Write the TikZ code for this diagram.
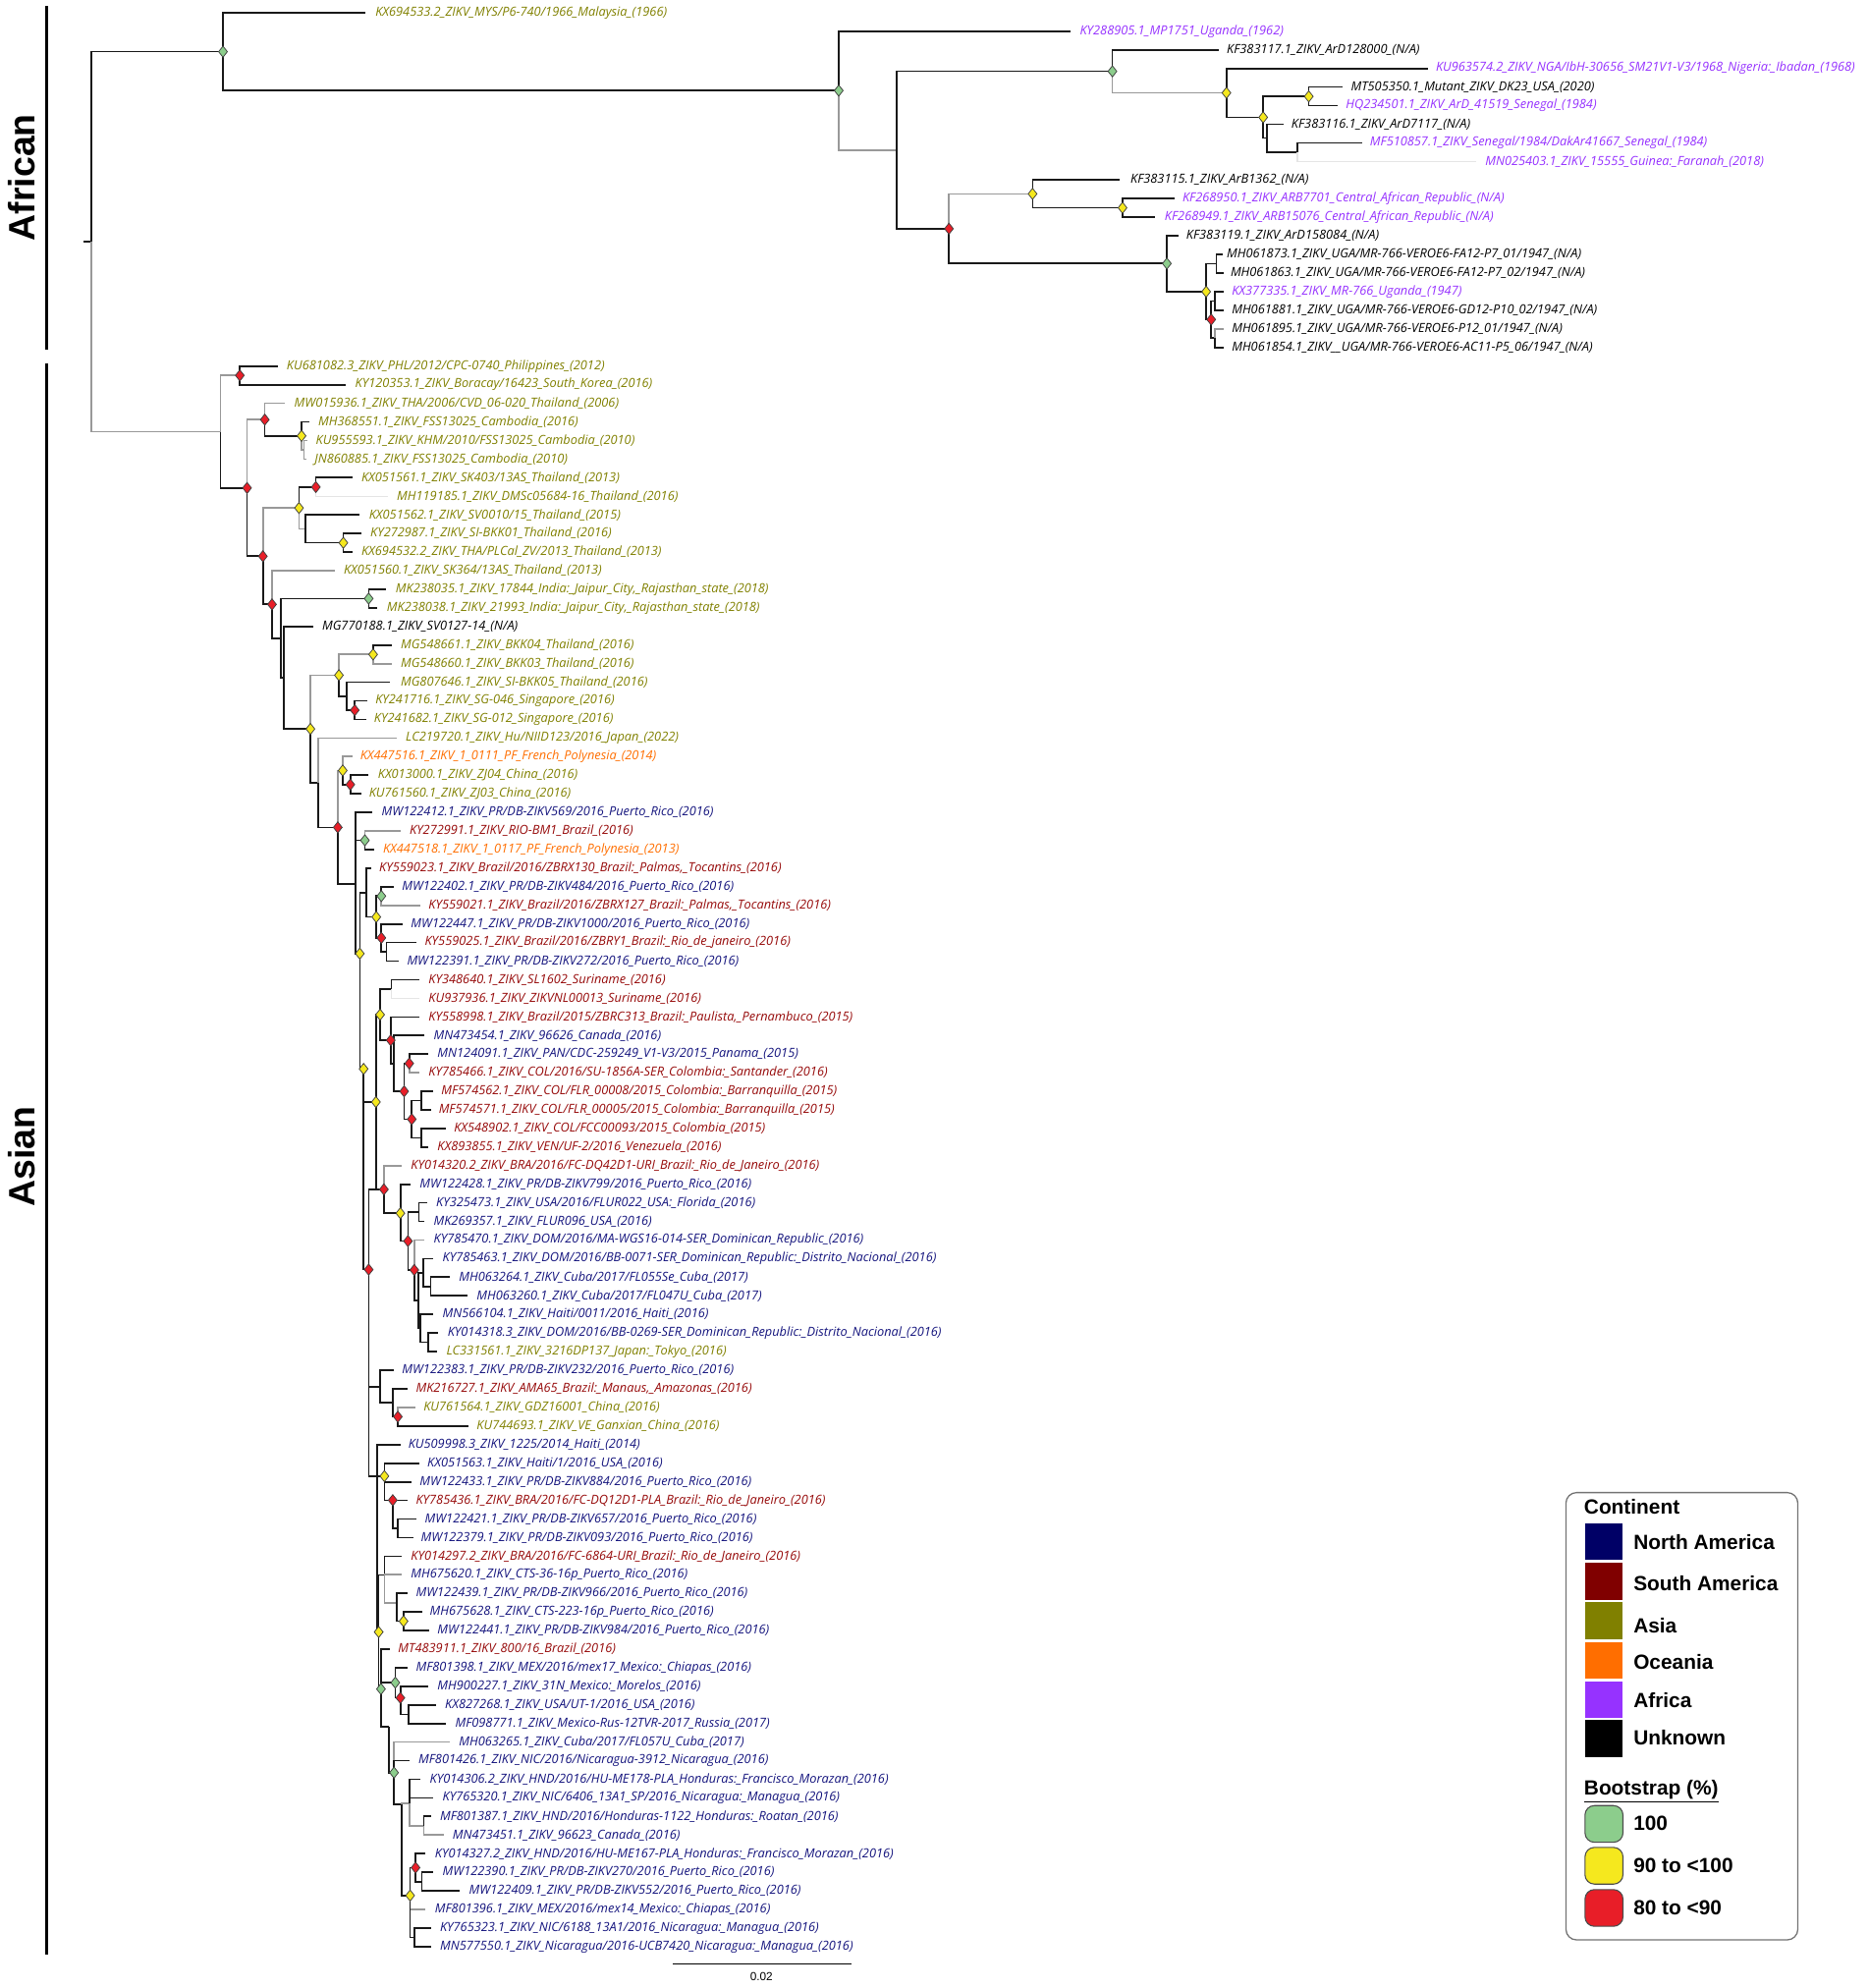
\documentclass[tikz,border=0pt]{standalone}
\usepackage{fontspec}
\usetikzlibrary{shapes.geometric}
\newfontfamily\labfam{Open Sans}
\newfontfamily\legfam{Liberation Sans}
\definecolor{cNA}{RGB}{20,20,125}
\definecolor{cSA}{RGB}{150,10,10}
\definecolor{cAS}{RGB}{128,128,0}
\definecolor{cOC}{RGB}{255,110,0}
\definecolor{cAF}{RGB}{150,50,255}
\definecolor{cUN}{RGB}{0,0,0}
\definecolor{lNA}{RGB}{0,0,102}
\definecolor{lSA}{RGB}{128,0,0}
\definecolor{bG}{RGB}{140,205,140}
\definecolor{bY}{RGB}{245,232,30}
\definecolor{bR}{RGB}{232,30,40}
\newcommand\TL[6]{\coordinate (#1) at (#2,#4); \node[lab,text=#5] (#1L) at (#3,#4) {#6};}
\newcommand\TN[3]{\coordinate (#1) at (#2,#3);}
\newcommand\TE[2]{\draw[br] (#1) |- (#2);}
\newcommand\TG[2]{\draw[brg] (#1) |- (#2);}
\newcommand\TW[2]{\draw[brl] (#1) |- (#2);}
\newcommand\TM[2]{\node[mk,fill=#2] (#1M) at (#1) {};}
\catcode`\_=12
\begin{document}
\begin{tikzpicture}[x=0.6pt,y=-0.6pt,
  br/.style={line width=0.8pt, black!90},
  brg/.style={line width=0.8pt, black!40},
  brl/.style={line width=0.6pt, black!10},
  lab/.style={font=\labfam\itshape\fontsize{5.95}{7}\selectfont, inner sep=0pt, anchor=west},
  mk/.style={shape=diamond, draw=black!75, line width=0.35pt, inner sep=0pt, minimum width=4.3pt, minimum height=5.4pt},
  clade/.style={font=\legfam\bfseries\fontsize{17.4}{18}\selectfont, rotate=90, inner sep=0pt},
  legt/.style={font=\legfam\bfseries\fontsize{9.7}{11}\selectfont, inner sep=0pt, anchor=west},
  sw/.style={inner sep=0pt, minimum width=17.6pt, minimum height=17.4pt},
  bs/.style={inner sep=0pt, minimum width=18pt, minimum height=17.4pt, rounded corners=4.5pt, draw=black!70, line width=0.5pt}]
\useasboundingbox (0,0) rectangle (1475,1569);
% ---------------- clade labels ----------------
\coordinate (barA1) at (37,5); \coordinate (barA2) at (37,276);
\coordinate (barB1) at (37,287); \coordinate (barB2) at (37,1543);
\draw[line width=1.5pt] (barA1) -- (barA2);
\draw[line width=1.5pt] (barB1) -- (barB2);
\node[clade] (cAfr) at (17,140) {African};
\node[clade] (cAsi) at (17,913) {Asian};
% ---------------- African leaves ----------------
\TL{m0}{288}{296}{10}{cAS}{KX694533.2_ZIKV_MYS/P6-740/1966_Malaysia_(1966)}
\TL{af1}{845}{852}{24.7}{cAF}{KY288905.1_MP1751_Uganda_(1962)}
\TL{af2}{962}{968}{39.4}{cUN}{KF383117.1_ZIKV_ArD128000_(N/A)}
\TL{af3}{1127}{1133}{54.0}{cAF}{KU963574.2_ZIKV_NGA/IbH-30656_SM21V1-V3/1968_Nigeria:_Ibadan_(1968)}
\TL{af4}{1060}{1066}{68.7}{cUN}{MT505350.1_Mutant_ZIKV_DK23_USA_(2020)}
\TL{af5}{1056}{1062}{83.4}{cAF}{HQ234501.1_ZIKV_ArD_41519_Senegal_(1984)}
\TL{af6}{1013}{1019}{98.0}{cUN}{KF383116.1_ZIKV_ArD7117_(N/A)}
\TL{af7}{1075}{1081}{112.7}{cAF}{MF510857.1_ZIKV_Senegal/1984/DakAr41667_Senegal_(1984)}
\TL{af8}{1165}{1172}{127.4}{cAF}{MN025403.1_ZIKV_15555_Guinea:_Faranah_(2018)}
\TL{af9}{884}{892}{142.0}{cUN}{KF383115.1_ZIKV_ArB1362_(N/A)}
\TL{af10}{927}{933}{156.6}{cAF}{KF268950.1_ZIKV_ARB7701_Central_African_Republic_(N/A)}
\TL{af11}{912}{919}{171.3}{cAF}{KF268949.1_ZIKV_ARB15076_Central_African_Republic_(N/A)}
\TL{af12}{930}{936}{185.8}{cUN}{KF383119.1_ZIKV_ArD158084_(N/A)}
\TL{af13}{965}{968}{200.8}{cUN}{MH061873.1_ZIKV_UGA/MR-766-VEROE6-FA12-P7_01/1947_(N/A)}
\TL{af14}{966}{971}{215.5}{cUN}{MH061863.1_ZIKV_UGA/MR-766-VEROE6-FA12-P7_02/1947_(N/A)}
\TL{af15}{966}{972}{230.2}{cAF}{KX377335.1_ZIKV_MR-766_Uganda_(1947)}
\TL{af16}{966}{972}{244.9}{cUN}{MH061881.1_ZIKV_UGA/MR-766-VEROE6-GD12-P10_02/1947_(N/A)}
\TL{af17}{966}{972}{259.5}{cUN}{MH061895.1_ZIKV_UGA/MR-766-VEROE6-P12_01/1947_(N/A)}
\TL{af18}{966}{972}{274.2}{cUN}{MH061854.1_ZIKV__UGA/MR-766-VEROE6-AC11-P5_06/1947_(N/A)}
% ---------------- Asian leaves ----------------
\TL{a1}{219}{226}{288.9}{cAS}{KU681082.3_ZIKV_PHL/2012/CPC-0740_Philippines_(2012)}
\TL{a2}{273}{280}{303.6}{cAS}{KY120353.1_ZIKV_Boracay/16423_South_Korea_(2016)}
\TL{a3}{225}{232}{318.3}{cAS}{MW015936.1_ZIKV_THA/2006/CVD_06-020_Thailand_(2006)}
\TL{a4}{244}{251}{333.0}{cAS}{MH368551.1_ZIKV_FSS13025_Cambodia_(2016)}
\TL{a5}{243}{249}{347.7}{cAS}{KU955593.1_ZIKV_KHM/2010/FSS13025_Cambodia_(2010)}
\TL{a6}{242}{248}{362.3}{cAS}{JN860885.1_ZIKV_FSS13025_Cambodia_(2010)}
\TL{a7}{278}{285}{377.0}{cAS}{KX051561.1_ZIKV_SK403/13AS_Thailand_(2013)}
\TL{a8}{306}{313}{391.7}{cAS}{MH119185.1_ZIKV_DMSc05684-16_Thailand_(2016)}
\TL{a9}{284}{291}{406.4}{cAS}{KX051562.1_ZIKV_SV0010/15_Thailand_(2015)}
\TL{a10}{285}{292}{421.0}{cAS}{KY272987.1_ZIKV_SI-BKK01_Thailand_(2016)}
\TL{a11}{278}{285}{435.7}{cAS}{KX694532.2_ZIKV_THA/PLCal_ZV/2013_Thailand_(2013)}
\TL{a12}{264}{271}{450.4}{cAS}{KX051560.1_ZIKV_SK364/13AS_Thailand_(2013)}
\TL{a13}{305}{312}{465.1}{cAS}{MK238035.1_ZIKV_17844_India:_Jaipur_City,_Rajasthan_state_(2018)}
\TL{a14}{298}{305}{479.7}{cAS}{MK238038.1_ZIKV_21993_India:_Jaipur_City,_Rajasthan_state_(2018)}
\TL{a15}{247}{254}{494.4}{cUN}{MG770188.1_ZIKV_SV0127-14_(N/A)}
\TL{a16}{309}{316}{509.1}{cAS}{MG548661.1_ZIKV_BKK04_Thailand_(2016)}
\TL{a17}{309}{316}{523.8}{cAS}{MG548660.1_ZIKV_BKK03_Thailand_(2016)}
\TL{a18}{308}{316}{538.4}{cAS}{MG807646.1_ZIKV_SI-BKK05_Thailand_(2016)}
\TL{a19}{290}{296}{553.1}{cAS}{KY241716.1_ZIKV_SG-046_Singapore_(2016)}
\TL{a20}{289}{295}{567.8}{cAS}{KY241682.1_ZIKV_SG-012_Singapore_(2016)}
\TL{a21}{313}{320}{582.5}{cAS}{LC219720.1_ZIKV_Hu/NIID123/2016_Japan_(2022)}
\TL{a22}{278}{284}{597.1}{cOC}{KX447516.1_ZIKV_1_0111_PF_French_Polynesia_(2014)}
\TL{a23}{291}{298}{611.8}{cAS}{KX013000.1_ZIKV_ZJ04_China_(2016)}
\TL{a24}{285}{291}{626.5}{cAS}{KU761560.1_ZIKV_ZJ03_China_(2016)}
\TL{a25}{294}{301}{641.2}{cNA}{MW122412.1_ZIKV_PR/DB-ZIKV569/2016_Puerto_Rico_(2016)}
\TL{a26}{316}{323}{655.8}{cSA}{KY272991.1_ZIKV_RIO-BM1_Brazil_(2016)}
\TL{a27}{295}{302}{670.5}{cOC}{KX447518.1_ZIKV_1_0117_PF_French_Polynesia_(2013)}
\TL{a28}{293}{299}{685.2}{cSA}{KY559023.1_ZIKV_Brazil/2016/ZBRX130_Brazil:_Palmas,_Tocantins_(2016)}
\TL{a29}{311}{317}{699.9}{cNA}{MW122402.1_ZIKV_PR/DB-ZIKV484/2016_Puerto_Rico_(2016)}
\TL{a30}{332}{338}{714.5}{cSA}{KY559021.1_ZIKV_Brazil/2016/ZBRX127_Brazil:_Palmas,_Tocantins_(2016)}
\TL{a31}{318}{324}{729.2}{cNA}{MW122447.1_ZIKV_PR/DB-ZIKV1000/2016_Puerto_Rico_(2016)}
\TL{a32}{329}{335}{743.9}{cSA}{KY559025.1_ZIKV_Brazil/2016/ZBRY1_Brazil:_Rio_de_janeiro_(2016)}
\TL{a33}{315}{321}{758.6}{cNA}{MW122391.1_ZIKV_PR/DB-ZIKV272/2016_Puerto_Rico_(2016)}
\TL{a34}{331}{338}{773.2}{cSA}{KY348640.1_ZIKV_SL1602_Suriname_(2016)}
\TL{a35}{331}{338}{787.9}{cSA}{KU937936.1_ZIKV_ZIKVNL00013_Suriname_(2016)}
\TL{a36}{331}{338}{802.6}{cSA}{KY558998.1_ZIKV_Brazil/2015/ZBRC313_Brazil:_Paulista,_Pernambuco_(2015)}
\TL{a37}{335}{342}{817.3}{cNA}{MN473454.1_ZIKV_96626_Canada_(2016)}
\TL{a38}{338}{345}{831.9}{cNA}{MN124091.1_ZIKV_PAN/CDC-259249_V1-V3/2015_Panama_(2015)}
\TL{a39}{331}{338}{846.6}{cSA}{KY785466.1_ZIKV_COL/2016/SU-1856A-SER_Colombia:_Santander_(2016)}
\TL{a40}{342}{348}{861.3}{cSA}{MF574562.1_ZIKV_COL/FLR_00008/2015_Colombia:_Barranquilla_(2015)}
\TL{a41}{340}{346}{876.0}{cSA}{MF574571.1_ZIKV_COL/FLR_00005/2015_Colombia:_Barranquilla_(2015)}
\TL{a42}{352}{358}{890.6}{cSA}{KX548902.1_ZIKV_COL/FCC00093/2015_Colombia_(2015)}
\TL{a43}{338}{345}{905.3}{cSA}{KX893855.1_ZIKV_VEN/UF-2/2016_Venezuela_(2016)}
\TL{a44}{317}{324}{920.0}{cSA}{KY014320.2_ZIKV_BRA/2016/FC-DQ42D1-URI_Brazil:_Rio_de_Janeiro_(2016)}
\TL{a45}{324}{331}{934.7}{cNA}{MW122428.1_ZIKV_PR/DB-ZIKV799/2016_Puerto_Rico_(2016)}
\TL{a46}{337}{344}{949.3}{cNA}{KY325473.1_ZIKV_USA/2016/FLUR022_USA:_Florida_(2016)}
\TL{a47}{335}{342}{964.0}{cNA}{MK269357.1_ZIKV_FLUR096_USA_(2016)}
\TL{a48}{335}{342}{978.7}{cNA}{KY785470.1_ZIKV_DOM/2016/MA-WGS16-014-SER_Dominican_Republic_(2016)}
\TL{a49}{342}{349}{993.4}{cNA}{KY785463.1_ZIKV_DOM/2016/BB-0071-SER_Dominican_Republic:_Distrito_Nacional_(2016)}
\TL{a50}{355}{362}{1008.0}{cNA}{MH063264.1_ZIKV_Cuba/2017/FL055Se_Cuba_(2017)}
\TL{a51}{369}{376}{1022.7}{cNA}{MH063260.1_ZIKV_Cuba/2017/FL047U_Cuba_(2017)}
\TL{a52}{342}{349}{1037.4}{cNA}{MN566104.1_ZIKV_Haiti/0011/2016_Haiti_(2016)}
\TL{a53}{346}{353}{1052.1}{cNA}{KY014318.3_ZIKV_DOM/2016/BB-0269-SER_Dominican_Republic:_Distrito_Nacional_(2016)}
\TL{a54}{345}{352}{1066.7}{cAS}{LC331561.1_ZIKV_3216DP137_Japan:_Tokyo_(2016)}
\TL{a55}{311}{317}{1081.4}{cNA}{MW122383.1_ZIKV_PR/DB-ZIKV232/2016_Puerto_Rico_(2016)}
\TL{a56}{322}{328}{1096.1}{cSA}{MK216727.1_ZIKV_AMA65_Brazil:_Manaus,_Amazonas_(2016)}
\TL{a57}{328}{334}{1110.8}{cAS}{KU761564.1_ZIKV_GDZ16001_China_(2016)}
\TL{a58}{370}{376}{1125.4}{cAS}{KU744693.1_ZIKV_VE_Ganxian_China_(2016)}
\TL{a59}{316}{322}{1140.1}{cNA}{KU509998.3_ZIKV_1225/2014_Haiti_(2014)}
\TL{a60}{331}{337}{1154.8}{cNA}{KX051563.1_ZIKV_Haiti/1/2016_USA_(2016)}
\TL{a61}{325}{331}{1169.5}{cNA}{MW122433.1_ZIKV_PR/DB-ZIKV884/2016_Puerto_Rico_(2016)}
\TL{a62}{322}{328}{1184.1}{cSA}{KY785436.1_ZIKV_BRA/2016/FC-DQ12D1-PLA_Brazil:_Rio_de_Janeiro_(2016)}
\TL{a63}{329}{335}{1198.8}{cNA}{MW122421.1_ZIKV_PR/DB-ZIKV657/2016_Puerto_Rico_(2016)}
\TL{a64}{326}{332}{1213.5}{cNA}{MW122379.1_ZIKV_PR/DB-ZIKV093/2016_Puerto_Rico_(2016)}
\TL{a65}{317}{324}{1228.2}{cSA}{KY014297.2_ZIKV_BRA/2016/FC-6864-URI_Brazil:_Rio_de_Janeiro_(2016)}
\TL{a66}{317}{324}{1242.8}{cNA}{MH675620.1_ZIKV_CTS-36-16p_Puerto_Rico_(2016)}
\TL{a67}{322}{328}{1257.5}{cNA}{MW122439.1_ZIKV_PR/DB-ZIKV966/2016_Puerto_Rico_(2016)}
\TL{a68}{333}{339}{1272.2}{cNA}{MH675628.1_ZIKV_CTS-223-16p_Puerto_Rico_(2016)}
\TL{a69}{339}{345}{1286.9}{cNA}{MW122441.1_ZIKV_PR/DB-ZIKV984/2016_Puerto_Rico_(2016)}
\TL{a70}{308}{314}{1301.5}{cSA}{MT483911.1_ZIKV_800/16_Brazil_(2016)}
\TL{a71}{322}{328}{1316.2}{cNA}{MF801398.1_ZIKV_MEX/2016/mex17_Mexico:_Chiapas_(2016)}
\TL{a72}{338}{345}{1330.9}{cNA}{MH900227.1_ZIKV_31N_Mexico:_Morelos_(2016)}
\TL{a73}{344}{351}{1345.6}{cNA}{KX827268.1_ZIKV_USA/UT-1/2016_USA_(2016)}
\TL{a74}{352}{359}{1360.2}{cNA}{MF098771.1_ZIKV_Mexico-Rus-12TVR-2017_Russia_(2017)}
\TL{a75}{355}{362}{1374.9}{cNA}{MH063265.1_ZIKV_Cuba/2017/FL057U_Cuba_(2017)}
\TL{a76}{323}{330}{1389.6}{cNA}{MF801426.1_ZIKV_NIC/2016/Nicaragua-3912_Nicaragua_(2016)}
\TL{a77}{332}{339}{1404.3}{cNA}{KY014306.2_ZIKV_HND/2016/HU-ME178-PLA_Honduras:_Francisco_Morazan_(2016)}
\TL{a78}{342}{349}{1418.9}{cNA}{KY765320.1_ZIKV_NIC/6406_13A1_SP/2016_Nicaragua:_Managua_(2016)}
\TL{a79}{340}{347}{1433.6}{cNA}{MF801387.1_ZIKV_HND/2016/Honduras-1122_Honduras:_Roatan_(2016)}
\TL{a80}{350}{357}{1448.3}{cNA}{MN473451.1_ZIKV_96623_Canada_(2016)}
\TL{a81}{336}{343}{1463.0}{cNA}{KY014327.2_ZIKV_HND/2016/HU-ME167-PLA_Honduras:_Francisco_Morazan_(2016)}
\TL{a82}{342}{349}{1477.6}{cNA}{MW122390.1_ZIKV_PR/DB-ZIKV270/2016_Puerto_Rico_(2016)}
\TL{a83}{363}{370}{1492.3}{cNA}{MW122409.1_ZIKV_PR/DB-ZIKV552/2016_Puerto_Rico_(2016)}
\TL{a84}{336}{343}{1507.0}{cNA}{MF801396.1_ZIKV_MEX/2016/mex14_Mexico:_Chiapas_(2016)}
\TL{a85}{340}{347}{1521.7}{cNA}{KY765323.1_ZIKV_NIC/6188_13A1/2016_Nicaragua:_Managua_(2016)}
\TL{a86}{340}{347}{1536.3}{cNA}{MN577550.1_ZIKV_Nicaragua/2016-UCB7420_Nicaragua:_Managua_(2016)}
% ---------------- internal nodes ----------------
\TN{Rs}{66}{190.7}\TN{R}{72}{190.7}
\TN{Naf}{176}{40.8}\TN{N1}{662}{71.5}\TN{N2}{708}{118.4}\TN{N3}{878}{56.3}
\TN{N4}{749}{180.5}\TN{N5}{968}{73.3}\TN{N6}{997}{92.6}\TN{N7}{1033}{76.1}
\TN{N6b}{1000}{109}\TN{N8}{1024}{120}\TN{N9}{815}{153}\TN{N10}{921}{208}
\TN{N11}{886}{164}\TN{N12}{952}{230.2}\TN{N13}{960}{208.2}\TN{N14}{956}{252.2}
\TN{N15}{959}{237.5}\TN{N16}{959}{266.9}
\TN{A0}{174}{340.7}\TN{A1}{189.3}{296.3}\TN{A2}{195}{385.1}\TN{A3}{209}{331.2}
\TN{A5}{238}{344}\TN{A5b}{240}{355}\TN{A4}{207.5}{439}\TN{A6}{236}{400.9}
\TN{A8}{249.3}{384.4}\TN{A6b}{241}{417.4}\TN{A9}{271}{428.4}\TN{A7}{214.7}{477}
\TN{B1}{221.5}{503.6}\TN{A10}{291}{472.4}\TN{B2}{224}{534.8}\TN{C1}{245}{575.3}
\TN{D1}{267.5}{532.9}\TN{D1a}{294.5}{516.5}\TN{D1b}{273.5}{549.4}\TN{D5}{280}{560.5}
\TN{C2}{251}{617.7}\TN{D4}{266.6}{653}\TN{D2}{270.5}{608.1}\TN{D3}{276.5}{619.2}
\TN{E0}{280.5}{697.9}\TN{E1}{288}{663.2}\TN{E2}{284}{752.6}\TN{E3}{289}{704.5}
\TN{E5}{297}{723.7}\TN{E6}{301}{707.2}\TN{E7}{301}{740.2}\TN{E8}{305}{751.2}
\TN{E4}{287}{843.6}\TN{E10}{296.7}{869.75}\TN{E9}{300}{800.8}\TN{Sur}{309}{780.6}
\TN{E11}{308.4}{821}\TN{E12p}{311}{839.3}\TN{E12}{319}{861.3}\TN{E13}{323}{839.3}
\TN{E14}{325}{883.3}\TN{E15}{332.6}{868.7}\TN{E16}{332.6}{898}
\TN{F1}{303}{938.7}\TN{F3}{316}{957.5}\TN{F5}{322}{979.5}\TN{F4}{330.6}{956.7}
\TN{F6b}{327}{1002.3}\TN{F6c}{330}{1026.4}\TN{F6}{334}{1004.4}\TN{F7}{340}{1015.4}
\TN{F8}{331.7}{1048.4}\TN{F9}{338}{1059.4}\TN{F0}{291}{1002}
\TN{G1}{300}{1094.3}\TN{G1b}{310}{1107.1}\TN{G2}{314}{1118.1}
\TN{L0}{297.7}{1165}\TN{H1}{303.4}{1165}\TN{H2}{310}{1184}\TN{H3}{314}{1206.2}
\TN{L1}{298.9}{1288}\TN{J1}{303.4}{1243}\TN{J2}{313}{1265}\TN{J3}{318.5}{1279.5}
\TN{M0}{300.7}{1333}\TN{M1}{312}{1328}\TN{K1}{316}{1340}\TN{K2}{322.5}{1353}
\TN{M2}{307}{1363}\TN{M3}{311}{1399}\TN{M4}{316.8}{1424}\TN{M5}{323}{1423}
\TN{M6}{334.5}{1441}\TN{M7}{323.7}{1496}\TN{M8}{328}{1474}\TN{M11}{333}{1485}
\TN{M10}{327}{1529}
% ---------------- branches: African ----------------
\draw[br] (Rs) -- (R);
\TE{R}{Naf}\TG{R}{A0}
\TE{Naf}{m0}\TE{Naf}{N1}
\TE{N1}{af1}\TG{N1}{N2}
\TE{N2}{N3}\TE{N2}{N4}
\TE{N3}{af2}\TG{N3}{N5}
\TE{N5}{af3}\TE{N5}{N6}
\TE{N6}{N7}\TE{N6}{N6b}
\TE{N7}{af4}\TE{N7}{af5}
\TE{N6b}{af6}\TE{N6b}{N8}
\TE{N8}{af7}\TW{N8}{af8}
\TG{N4}{N9}\TE{N4}{N10}
\TE{N9}{af9}\TE{N9}{N11}
\TE{N11}{af10}\TE{N11}{af11}
\TE{N10}{af12}\TE{N10}{N12}
\TE{N12}{N13}\TE{N12}{N14}
\TE{N13}{af13}\TE{N13}{af14}
\TE{N14}{N15}\TE{N14}{N16}
\TE{N15}{af15}\TE{N15}{af16}
\TG{N16}{af17}\TE{N16}{af18}
% ---------------- branches: Asian ----------------
\TG{A0}{A1}\TE{A0}{A2}
\TE{A1}{a1}\TE{A1}{a2}
\TG{A2}{A3}\TE{A2}{A4}
\TG{A3}{a3}\TE{A3}{A5}
\TE{A5}{a4}\TG{A5}{A5b}
\TG{A5b}{a5}\TG{A5b}{a6}
\TG{A4}{A6}\TE{A4}{A7}
\TE{A6}{A8}\TG{A6}{A6b}
\TE{A8}{a7}\TW{A8}{a8}
\TE{A6b}{a9}\TE{A6b}{A9}
\TE{A9}{a10}\TE{A9}{a11}
\TG{A7}{a12}\TE{A7}{B1}
\TE{B1}{A10}\TE{B1}{B2}
\TE{A10}{a13}\TE{A10}{a14}
\TE{B2}{a15}\TE{B2}{C1}
\TG{C1}{D1}\TE{C1}{C2}
\TG{D1}{D1a}\TE{D1}{D1b}
\TE{D1a}{a16}\TG{D1a}{a17}
\TE{D1b}{a18}\TE{D1b}{D5}
\TE{D5}{a19}\TE{D5}{a20}
\TG{C2}{a21}\TE{C2}{D4}
\TG{D4}{D2}\TE{D4}{E0}
\TG{D2}{a22}\TE{D2}{D3}
\TE{D3}{a23}\TE{D3}{a24}
\TE{E0}{a25}\TE{E0}{E1}\TE{E0}{E2}
\TG{E1}{a26}\TE{E1}{a27}
\TE{E2}{E3}\TE{E2}{E4}
\TE{E3}{a28}\TE{E3}{E5}
\TE{E5}{E6}\TE{E5}{E7}
\TE{E6}{a29}\TG{E6}{a30}
\TE{E7}{a31}\TE{E7}{E8}
\TE{E8}{a32}\TE{E8}{a33}
\TE{E4}{E10}\TE{E4}{F0}
\TE{E10}{E9}\TE{E10}{F1}
\TE{E9}{Sur}\TE{E9}{E11}
\TE{Sur}{a34}\TW{Sur}{a35}
\TE{E11}{a36}\TE{E11}{E12p}
\TE{E12p}{a37}\TE{E12p}{E12}
\TE{E12}{E13}\TE{E12}{E14}
\TE{E13}{a38}\TG{E13}{a39}
\TE{E14}{E15}\TE{E14}{E16}
\TE{E15}{a40}\TE{E15}{a41}
\TE{E16}{a42}\TE{E16}{a43}
\TG{F1}{a44}\TE{F1}{F3}
\TE{F3}{a45}\TE{F3}{F5}
\TE{F5}{F4}\TE{F5}{F6b}
\TE{F4}{a46}\TE{F4}{a47}
\TG{F6b}{a48}\TE{F6b}{F6c}
\TE{F6c}{F6}\TE{F6c}{F8}
\TE{F6}{a49}\TE{F6}{F7}
\TE{F7}{a50}\TE{F7}{a51}
\TE{F8}{a52}\TE{F8}{F9}
\TE{F9}{a53}\TE{F9}{a54}
\TE{F0}{F1}\TE{F0}{G1}\TE{F0}{L0}
\TE{G1}{a55}\TE{G1}{G1b}
\TE{G1b}{a56}\TE{G1b}{G2}
\TG{G2}{a57}\TE{G2}{a58}
\TE{L0}{a59}\TE{L0}{H1}\TE{L0}{L1}
\TE{H1}{a60}\TE{H1}{a61}\TE{H1}{H2}
\TE{H2}{a62}\TE{H2}{H3}
\TE{H3}{a63}\TE{H3}{a64}
\TE{L1}{J1}\TE{L1}{M0}
\TE{J1}{a65}\TG{J1}{a66}\TG{J1}{J2}
\TE{J2}{a67}\TE{J2}{J3}
\TE{J3}{a68}\TE{J3}{a69}
\TE{M0}{a70}\TE{M0}{M1}\TE{M0}{M2}
\TE{M1}{a71}\TE{M1}{K1}
\TE{K1}{a72}\TE{K1}{K2}
\TE{K2}{a73}\TE{K2}{a74}
\TE{M2}{M3}
\TG{M3}{a75}\TE{M3}{a76}\TE{M3}{M4}
\TG{M4}{M5}\TE{M4}{M7}
\TE{M5}{a77}\TE{M5}{a78}\TG{M5}{M6}
\TE{M6}{a79}\TG{M6}{a80}
\TE{M7}{M8}\TG{M7}{a84}\TE{M7}{M10}
\TE{M8}{a81}\TE{M8}{M11}
\TE{M11}{a82}\TE{M11}{a83}
\TE{M10}{a85}\TE{M10}{a86}
% ---------------- bootstrap markers ----------------
\TM{Naf}{bG}\TM{N1}{bG}\TM{N3}{bG}\TM{N5}{bY}\TM{N6}{bY}\TM{N7}{bY}
\TM{N4}{bR}\TM{N9}{bY}\TM{N11}{bY}\TM{N10}{bG}\TM{N12}{bY}\TM{N14}{bR}
\TM{A1}{bR}\TM{A2}{bR}\TM{A3}{bR}\TM{A5}{bY}\TM{A4}{bR}\TM{A6}{bY}
\TM{A8}{bR}\TM{A9}{bY}\TM{A7}{bR}\TM{A10}{bG}\TM{C1}{bY}\TM{D1}{bY}
\TM{D1a}{bY}\TM{D5}{bR}\TM{D4}{bR}\TM{D2}{bY}\TM{D3}{bR}
\TM{E1}{bG}\TM{E2}{bY}\TM{E5}{bY}\TM{E6}{bG}\TM{E7}{bR}
\TM{E4}{bY}\TM{E10}{bY}\TM{E9}{bY}\TM{E11}{bR}\TM{E12}{bR}\TM{E13}{bR}\TM{E14}{bR}
\TM{F1}{bR}\TM{F3}{bY}\TM{F5}{bR}\TM{F6b}{bR}\TM{F0}{bR}
\TM{G2}{bR}\TM{H1}{bY}\TM{H2}{bR}\TM{L1}{bY}\TM{J3}{bY}
\TM{M0}{bG}\TM{M1}{bG}\TM{K1}{bR}\TM{M3}{bG}\TM{M7}{bY}\TM{M8}{bR}
% ---------------- scale bar ----------------
\coordinate (sb1) at (531,1550); \coordinate (sb2) at (672,1550);
\draw[line width=0.8pt] (sb1) -- (sb2);
\node[font=\legfam\fontsize{5.5}{6}\selectfont, inner sep=0pt] (sbl) at (601,1560) {0.02};
% ---------------- legend ----------------
\coordinate (lg1) at (1236,1178); \coordinate (lg2) at (1419,1531);
\draw[black!55, line width=0.6pt, rounded corners=5pt] (lg1) rectangle (lg2);
\node[legt] (lgT) at (1250,1189) {Continent};
\node[sw,fill=lNA] (sw1) at (1265.7,1216.5) {};
\node[sw,fill=lSA] (sw2) at (1265.7,1248) {};
\node[sw,fill=cAS] (sw3) at (1265.7,1279) {};
\node[sw,fill=cOC] (sw4) at (1265.7,1310.5) {};
\node[sw,fill=cAF] (sw5) at (1265.7,1341.5) {};
\node[sw,fill=black] (sw6) at (1265.7,1372) {};
\node[legt] (lt1) at (1289,1217) {North America};
\node[legt] (lt2) at (1289,1249.5) {South America};
\node[legt] (lt3) at (1289,1283) {Asia};
\node[legt] (lt4) at (1289,1311.5) {Oceania};
\node[legt] (lt5) at (1289,1341.5) {Africa};
\node[legt] (lt6) at (1289,1371) {Unknown};
\node[legt] (lgB) at (1250,1414) {\underline{Bootstrap (\%)}};
\node[bs,fill=bG] (bs1) at (1266,1439.5) {};
\node[bs,fill=bY] (bs2) at (1266,1472.5) {};
\node[bs,fill=bR] (bs3) at (1266,1505.8) {};
\node[legt] (bt1) at (1289,1439) {100};
\node[legt] (bt2) at (1289,1472) {90 to <100};
\node[legt] (bt3) at (1289,1505.5) {80 to <90};
\end{tikzpicture}
\end{document}
